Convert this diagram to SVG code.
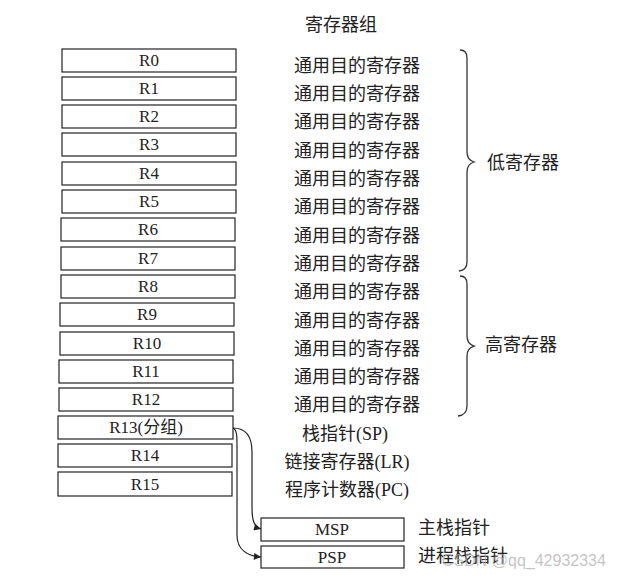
<svg xmlns="http://www.w3.org/2000/svg" width="625" height="581" viewBox="0 0 625 581">
<defs>
<style>
.box{fill:#fff;stroke:#222;stroke-width:1.2}
.t{font-family:"Liberation Serif","Noto Sans CJK SC",serif;font-size:17px;fill:#222;text-anchor:middle}
.g{font-family:"Liberation Serif","Noto Sans CJK SC",serif;font-size:18px;fill:#222;text-anchor:middle}
.l{font-family:"Liberation Serif","Noto Sans CJK SC",serif;font-size:18px;fill:#222}
.c{fill:none;stroke:#222;stroke-width:1.2}
.br{fill:none;stroke:#333;stroke-width:1.3}
</style>
<marker id="ah" viewBox="0 0 10 10" refX="10" refY="5" markerWidth="9" markerHeight="7" orient="auto" markerUnits="userSpaceOnUse"><path d="M0,0 L10,5 L0,10 z" fill="#222"/></marker>
</defs>
<rect width="625" height="581" fill="#fff"/>
<text class="g" x="341" y="31">寄存器组</text>
<g id="R0"><rect class="box" x="62" y="49" width="174" height="23"/><text class="t" x="149" y="66">R0</text><text class="g" x="357" y="72">通用目的寄存器</text></g>
<g id="R1"><rect class="box" x="62" y="77" width="174" height="23"/><text class="t" x="149" y="94">R1</text><text class="g" x="357" y="100">通用目的寄存器</text></g>
<g id="R2"><rect class="box" x="62" y="105" width="174" height="23"/><text class="t" x="149" y="122">R2</text><text class="g" x="357" y="128">通用目的寄存器</text></g>
<g id="R3"><rect class="box" x="62" y="133" width="174" height="23"/><text class="t" x="149" y="150">R3</text><text class="g" x="357" y="157">通用目的寄存器</text></g>
<g id="R4"><rect class="box" x="62" y="162" width="174" height="23"/><text class="t" x="149" y="179">R4</text><text class="g" x="357" y="185">通用目的寄存器</text></g>
<g id="R5"><rect class="box" x="62" y="190" width="174" height="23"/><text class="t" x="149" y="207">R5</text><text class="g" x="357" y="213">通用目的寄存器</text></g>
<g id="R6"><rect class="box" x="61" y="218" width="174" height="23"/><text class="t" x="148" y="235">R6</text><text class="g" x="357" y="242">通用目的寄存器</text></g>
<g id="R7"><rect class="box" x="61" y="247" width="174" height="23"/><text class="t" x="148" y="264">R7</text><text class="g" x="357" y="270">通用目的寄存器</text></g>
<g id="R8"><rect class="box" x="61" y="275" width="174" height="23"/><text class="t" x="148" y="292">R8</text><text class="g" x="357" y="298">通用目的寄存器</text></g>
<g id="R9"><rect class="box" x="60" y="303" width="174" height="23"/><text class="t" x="147" y="320">R9</text><text class="g" x="357" y="327">通用目的寄存器</text></g>
<g id="R10"><rect class="box" x="60" y="332" width="174" height="23"/><text class="t" x="147" y="349">R10</text><text class="g" x="357" y="355">通用目的寄存器</text></g>
<g id="R11"><rect class="box" x="59" y="360" width="174" height="23"/><text class="t" x="146" y="377">R11</text><text class="g" x="357" y="383">通用目的寄存器</text></g>
<g id="R12"><rect class="box" x="59" y="388" width="174" height="23"/><text class="t" x="146" y="405">R12</text><text class="g" x="357" y="411">通用目的寄存器</text></g>
<g id="R13"><rect class="box" x="58" y="416" width="175" height="23"/><text class="t" x="146" y="433">R13(分组)</text><text class="g" x="345" y="440">栈指针(SP)</text></g>
<g id="R14"><rect class="box" x="58" y="444" width="174" height="23"/><text class="t" x="145" y="461">R14</text><text class="g" x="347" y="468">链接寄存器(LR)</text></g>
<g id="R15"><rect class="box" x="58" y="472" width="174" height="24"/><text class="t" x="145" y="490">R15</text><text class="g" x="347" y="496">程序计数器(PC)</text></g>
<g id="MSP"><rect class="box" x="261" y="518" width="143" height="23"/><text class="t" x="332" y="535">MSP</text><text class="l" x="418" y="534">主栈指针</text></g>
<g id="PSP"><rect class="box" x="261" y="546" width="143" height="22"/><text class="t" x="332" y="563">PSP</text><text class="l" x="418" y="562">进程栈指针</text></g>
<g id="braces">
<path class="br" d="M460,50 Q467,50 467,58 L467,152 Q467,160 474,162 Q467,164 467,172 L467,262 Q467,270 459,271"/>
<path class="br" d="M460,276 Q467,276 467,284 L467,336 Q467,344 474,346 Q467,348 467,356 L467,406 Q467,415 458,416"/>
<text class="l" x="487" y="169">低寄存器</text>
<text class="l" x="485" y="351">高寄存器</text>
</g>
<g id="connectors">
<path class="c" d="M233,428 C246,428 252,436 252,452 L252,508 C252,520 254,527 261,529" marker-end="url(#ah)"/>
<path class="c" d="M233,428 C237,430 237,436 237,446 L237,535 C237,550 248,556 261,557" marker-end="url(#ah)"/>
</g>
<text x="442" y="566" font-family="Liberation Sans,Arial,sans-serif" font-size="16" fill="#aaa" fill-opacity="0.7">CSDN @qq_42932334</text>
</svg>
